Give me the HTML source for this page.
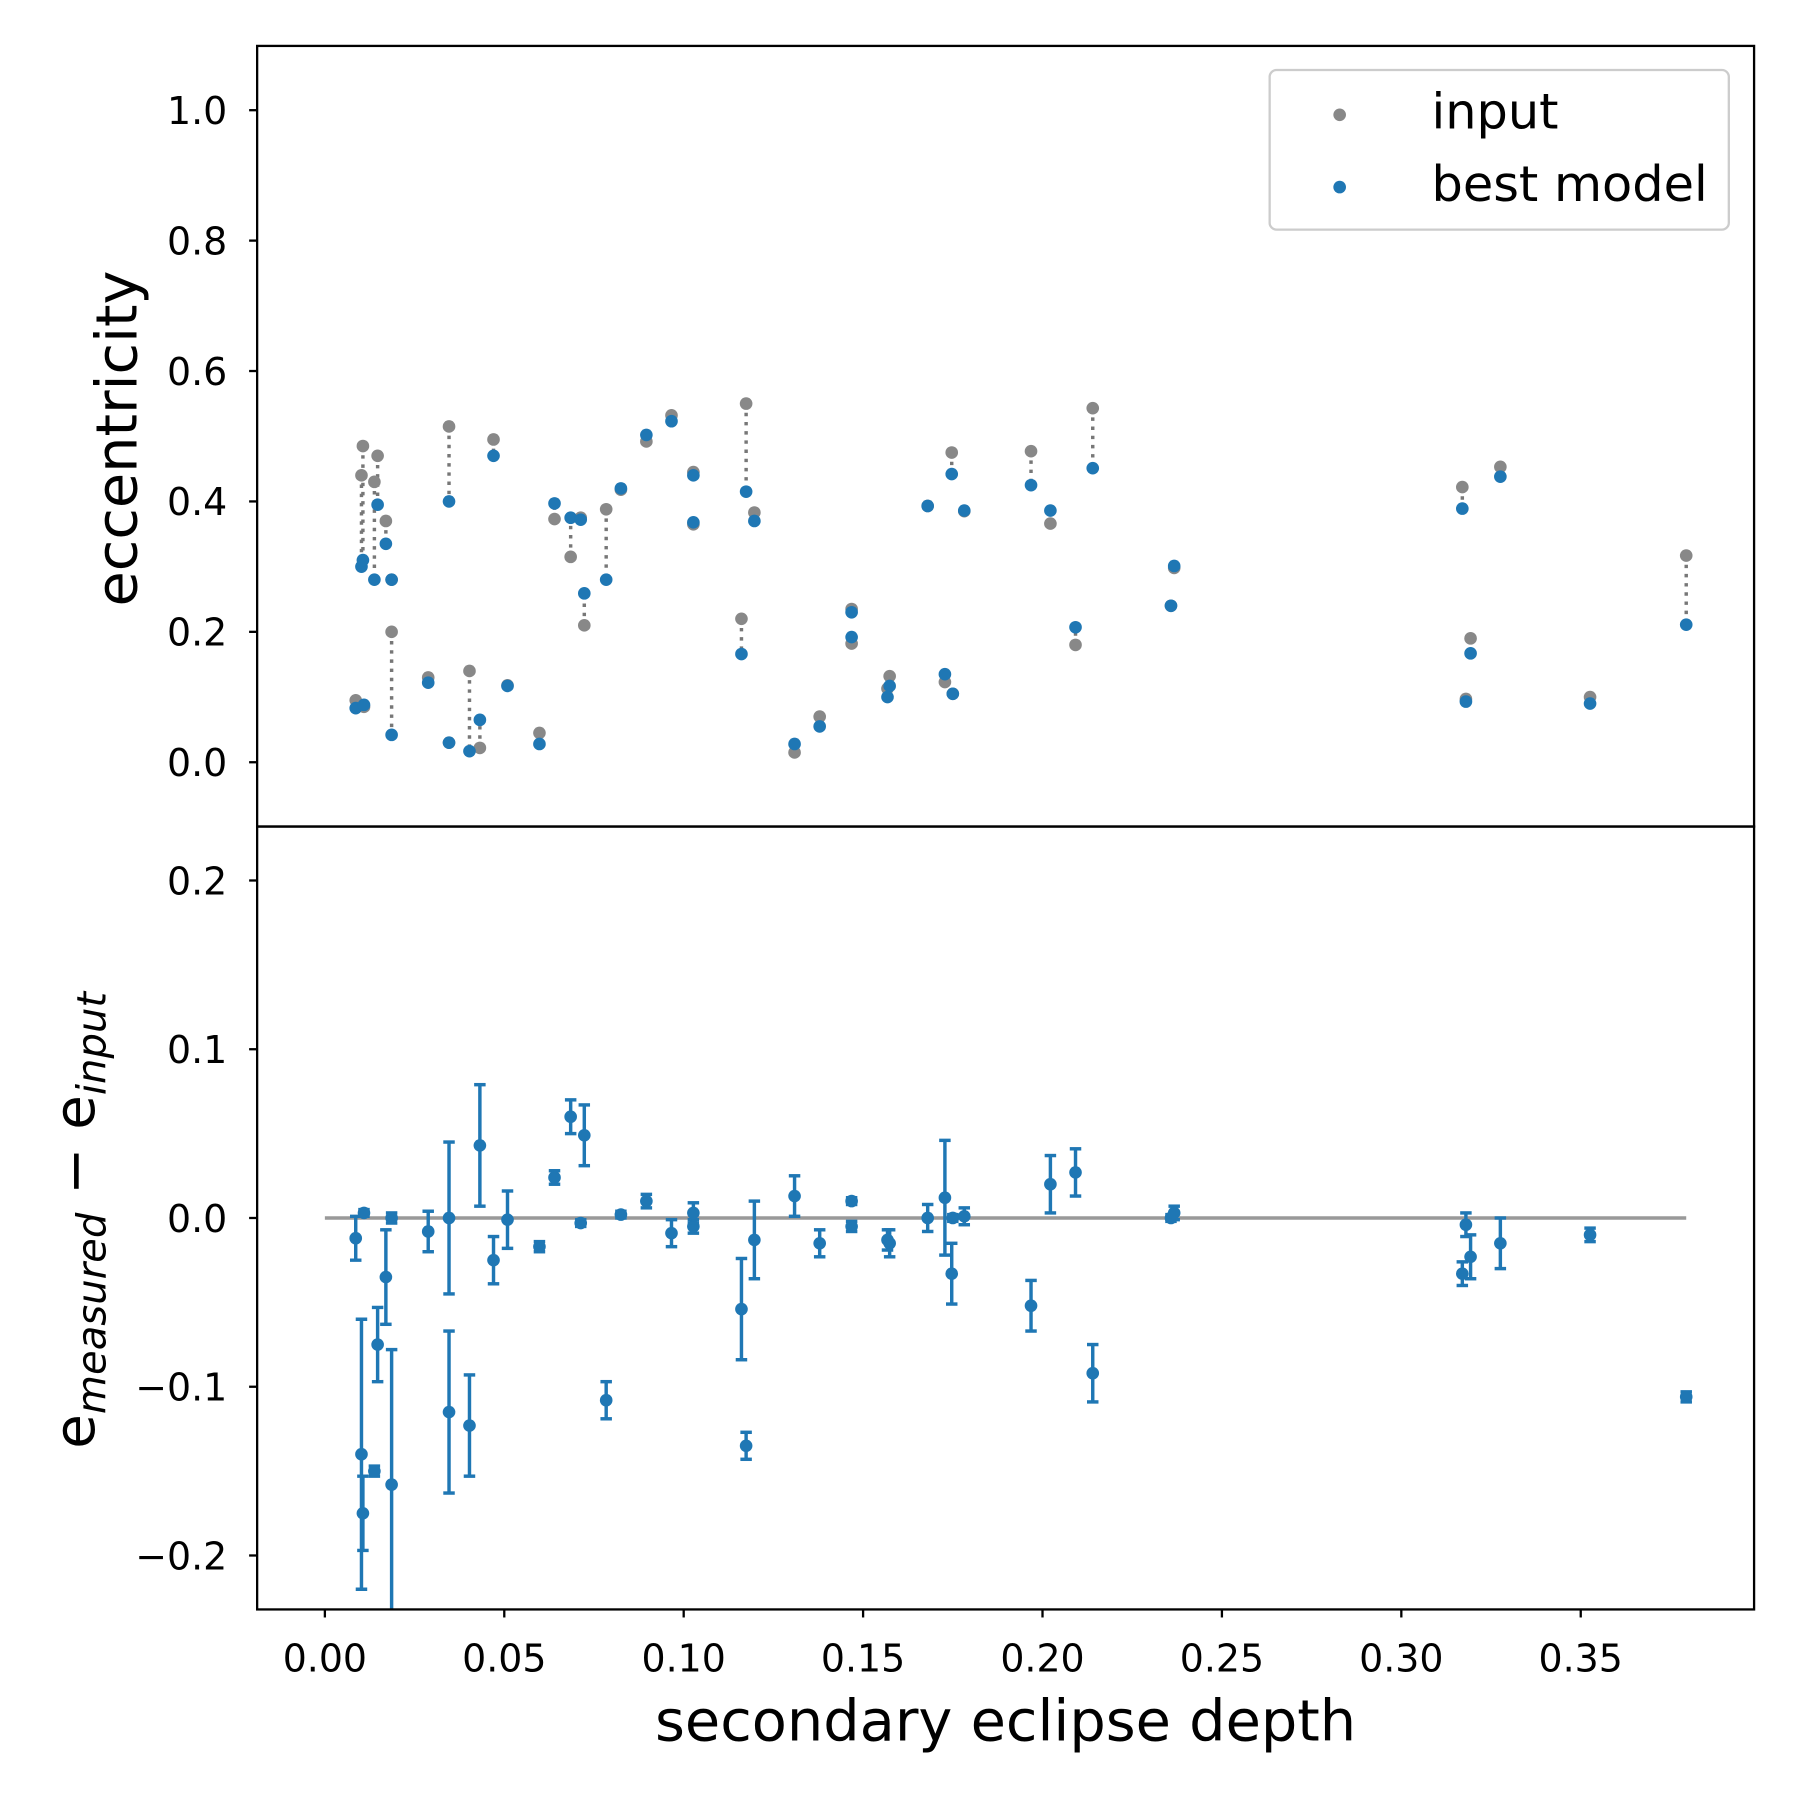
<!DOCTYPE html>
<html><head><meta charset="utf-8"><style>
html,body{margin:0;padding:0;background:#fff}
svg{display:block;font-family:"DejaVu Sans","Liberation Sans",sans-serif}
</style></head><body>
<svg id="chart" width="1800" height="1800" viewBox="0 0 1568 1568" xmlns="http://www.w3.org/2000/svg">
<defs>
<clipPath id="clipTop"><rect x="224" y="40" width="1304" height="680"/></clipPath>
<clipPath id="clipBot"><rect x="224" y="720" width="1304" height="682"/></clipPath>
</defs>
<rect width="1568" height="1568" fill="#fff"/>
<g id="topPanel" clip-path="url(#clipTop)"></g>
<g id="botPanel" clip-path="url(#clipBot)"></g>
<rect x="224" y="40" width="1304" height="680" fill="none" stroke="#000" stroke-width="2"/>
<rect x="224" y="720" width="1304" height="682" fill="none" stroke="#000" stroke-width="2"/>
<g id="ticks"></g>
<text transform="translate(119,382) rotate(-90)" text-anchor="middle" font-size="50">eccentricity</text>
<text transform="translate(82,1063) rotate(-90)" text-anchor="middle" font-size="49">e<tspan font-size="35" font-style="italic" dy="10">measured</tspan><tspan dy="-10"> − e</tspan><tspan font-size="35" font-style="italic" dy="10">input</tspan></text>
<text x="876" y="1516" text-anchor="middle" font-size="50">secondary eclipse depth</text>
<g>
<rect x="1106" y="61" width="400" height="139" rx="6" fill="#fff" fill-opacity="0.8" stroke="#ccc" stroke-width="2"/>
<circle cx="1167" cy="100" r="5.5" fill="#888"/>
<text x="1247" y="112" font-size="43">input</text>
<circle cx="1167" cy="163" r="5.5" fill="#1f77b4"/>
<text x="1247" y="175" font-size="43">best model</text>
</g>
</svg>
<script>
const xDepth=[310,315,316,317,326,329,336,341,341,373,391,391,409,418,430,442,470,483,497,506,509,528,541,563,585,604,604,646,650,657,692,714,742,742,775,773,808,823,829,830,840,898,915,937,952,1020,1023,1274,1277,1281,1307,1385,1469].map(p=>+((p-283)/3125.7).toFixed(4));
const eInput=[0.095,0.44,0.485,0.085,0.43,0.47,0.37,0.28,0.20,0.13,0.515,0.03,0.14,0.022,0.495,0.118,0.045,0.373,0.315,0.375,0.21,0.388,0.418,0.492,0.532,0.445,0.365,0.22,0.55,0.383,0.015,0.07,0.235,0.182,0.132,0.113,0.393,0.123,0.475,0.105,0.385,0.477,0.366,0.18,0.543,0.24,0.298,0.422,0.097,0.19,0.453,0.10,0.317];
const eModel=[0.083,0.30,0.31,0.088,0.28,0.395,0.335,0.28,0.042,0.122,0.40,0.03,0.017,0.065,0.47,0.117,0.028,0.397,0.375,0.372,0.259,0.28,0.42,0.502,0.523,0.44,0.368,0.166,0.415,0.37,0.028,0.055,0.23,0.192,0.117,0.10,0.393,0.135,0.442,0.105,0.386,0.425,0.386,0.207,0.451,0.24,0.301,0.389,0.093,0.167,0.438,0.09,0.211];
const eErr=[0.013,0.08,0.022,0.002,0.003,0.022,0.028,0.003,0.08,0.012,0.048,0.045,0.03,0.036,0.014,0.017,0.003,0.004,0.01,0.002,0.018,0.011,0.002,0.004,0.008,0.004,0.006,0.03,0.008,0.023,0.012,0.008,0.003,0.002,0.008,0.006,0.008,0.034,0.018,0.002,0.005,0.015,0.017,0.014,0.017,0.002,0.004,0.007,0.007,0.013,0.015,0.004,0.003];
const xTicks=[0,0.05,0.10,0.15,0.20,0.25,0.30,0.35];
const topTicks=[0,0.2,0.4,0.6,0.8,1.0];
const botTicks=[-0.2,-0.1,0,0.1,0.2];

const NS="http://www.w3.org/2000/svg";
const X=v=>283+v*3125.7;
const YT=v=>664-v*568;
const YB=v=>1061-v*1470;
function mk(tag,parent,attrs){const e=document.createElementNS(NS,tag);for(const k in attrs)e.setAttribute(k,attrs[k]);parent.appendChild(e);return e;}
const topG=document.getElementById('topPanel'),botG=document.getElementById('botPanel'),tk=document.getElementById('ticks');

xTicks.forEach(v=>{
  const l=mk('line',tk,{x1:X(v),x2:X(v),y1:1402,y2:1409,stroke:'#000','stroke-width':2});
  
  
  const t=mk('text',tk,{x:X(v),y:1456,'text-anchor':'middle','font-size':33});
  t.textContent=v.toFixed(2);
  
  
});
topTicks.forEach(v=>{
  const l=mk('line',tk,{x1:217,x2:224,y1:YT(v),y2:YT(v),stroke:'#000','stroke-width':2});
  
  
  const t=mk('text',tk,{x:198,y:YT(v)+12,'text-anchor':'end','font-size':33});
  t.textContent=v.toFixed(1);
  
  
});
botTicks.forEach(v=>{
  const l=mk('line',tk,{x1:217,x2:224,y1:YB(v),y2:YB(v),stroke:'#000','stroke-width':2});
  
  
  const t=mk('text',tk,{x:198,y:YB(v)+12,'text-anchor':'end','font-size':33});
  t.textContent=(v<0?'\u2212':'')+Math.abs(v).toFixed(1);
  
  
});

const zl=mk('line',botG,{x1:X(0),x2:X(Math.max(...xDepth)),y1:YB(0),y2:YB(0),stroke:'#999','stroke-width':3});



xDepth.forEach((x,i)=>{
  const cx=X(x);
  const dl=mk('line',topG,{x1:cx,x2:cx,y1:YT(eInput[i]),y2:YT(eModel[i]),stroke:'#777','stroke-width':3,'stroke-dasharray':'3 5'});
  
  
});
xDepth.forEach((x,i)=>{
  const c=mk('circle',topG,{cx:X(x),cy:YT(eInput[i]),r:5.5,fill:'#888'});
  
  
});
xDepth.forEach((x,i)=>{
  const c=mk('circle',topG,{cx:X(x),cy:YT(eModel[i]),r:5.5,fill:'#1f77b4'});
  
  
});
xDepth.forEach((x,i)=>{
  const cx=X(x),d=eModel[i]-eInput[i],e=eErr[i];
  const g=mk('g',botG,{});
  
  
  mk('line',g,{x1:cx,x2:cx,y1:YB(d+e),y2:YB(d-e),stroke:'#1f77b4','stroke-width':3});
  mk('line',g,{x1:cx-5,x2:cx+5,y1:YB(d+e),y2:YB(d+e),stroke:'#1f77b4','stroke-width':3});
  mk('line',g,{x1:cx-5,x2:cx+5,y1:YB(d-e),y2:YB(d-e),stroke:'#1f77b4','stroke-width':3});
  const c=mk('circle',botG,{cx:cx,cy:YB(d),r:5.5,fill:'#1f77b4'});
  
  
});
</script>
</body></html>
